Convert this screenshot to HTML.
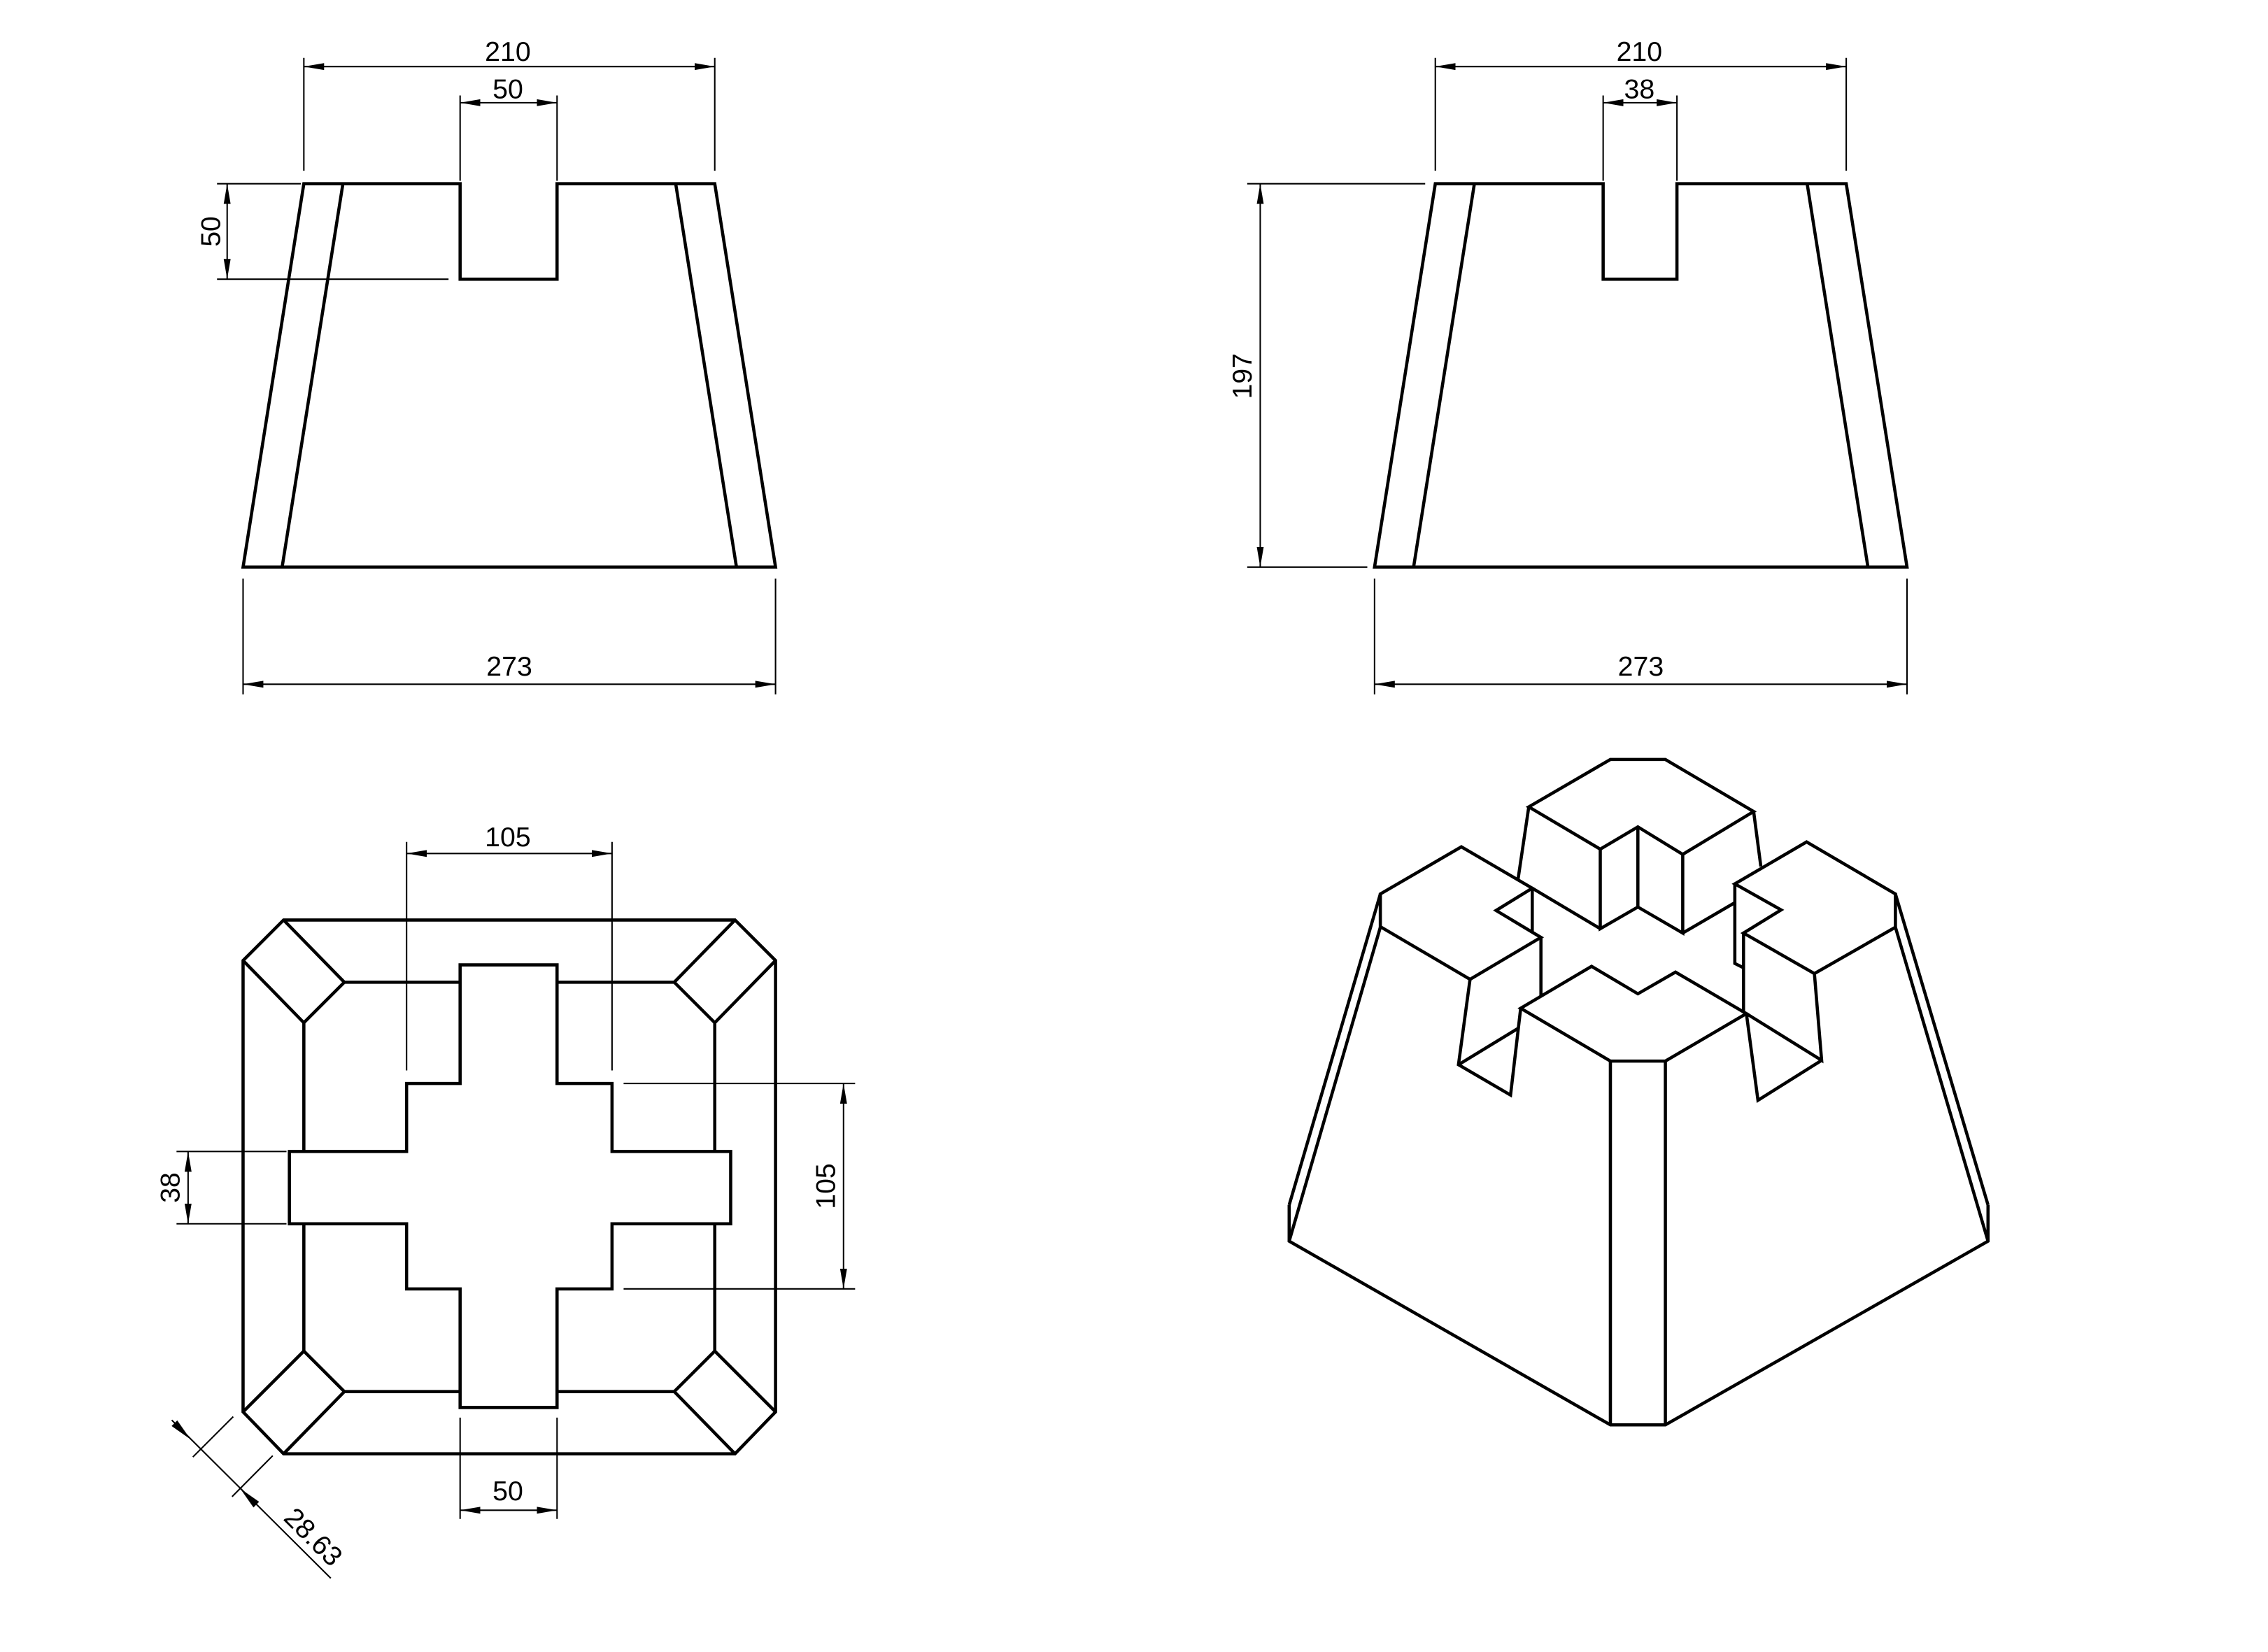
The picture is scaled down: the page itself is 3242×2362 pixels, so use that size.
<!DOCTYPE html>
<html><head><meta charset="utf-8"><style>
html,body{margin:0;padding:0;background:#fff;}
svg{display:block;}
text{font-family:"Liberation Sans",sans-serif;font-size:19px;fill:#000;}
</style></head><body>
<svg width="3242" height="2362" viewBox="0 0 1567.5 1142" xmlns="http://www.w3.org/2000/svg">
<defs>
<marker id="a" markerWidth="14" markerHeight="6" refX="14" refY="3" orient="auto" markerUnits="userSpaceOnUse"><path d="M0,0.6 L14,3 L0,5.4 Z" fill="#000"/></marker>
<marker id="b" markerWidth="14" markerHeight="6" refX="0" refY="3" orient="auto" markerUnits="userSpaceOnUse"><path d="M14,0.6 L0,3 L14,5.4 Z" fill="#000"/></marker>
</defs>
<rect width="1567.5" height="1142" fill="#fff"/>
<g fill="none" stroke="#000" stroke-width="2.2" stroke-linejoin="miter">
<path d="M318,127 L210,127 L168,392 L536,392 L494,127 L385,127 L385,193 L318,193 Z"/>
<path d="M237,127 L195,392 M467,127 L509,392"/>
<path d="M1108,127 L992,127 L950,392 L1318,392 L1276,127 L1159,127 L1159,193 L1108,193 Z"/>
<path d="M1019,127 L977,392 M1249,127 L1291,392"/>
<path d="M196,636 L508,636 L536,664 L536,976 L508,1005 L196,1005 L168,976 L168,664 Z"/>
<path d="M168,664 L210,707 L238,679 L196,636"/>
<path d="M536,664 L494,707 L466,679 L508,636"/>
<path d="M168,976 L210,934 L238,962 L196,1005"/>
<path d="M536,976 L494,934 L466,962 L508,1005"/>
<path d="M238,679 L318,679 M385,679 L466,679 M238,962 L318,962 M385,962 L466,962 M210,707 L210,796 M210,846 L210,934 M494,707 L494,796 M494,846 L494,934"/>
<path d="M318,667 L385,667 L385,749 L423,749 L423,796 L505,796 L505,846 L423,846 L423,891 L385,891 L385,973 L318,973 L318,891 L281,891 L281,846 L200,846 L200,796 L281,796 L281,749 L318,749 Z"/>
<path d="M891,833 L891,858 L1113,985 L1151,985 L1374,858 L1374,833"/>
<path d="M1113,733.5 L1113,985 M1151,733.5 L1151,985"/>
<path d="M891,833 L954,618 M891,858 L954,641 M1374,833 L1310,618 M1374,858 L1310,641"/>
<path d="M1056.6,557.8 L1113,525 L1151,525 L1212,561 L1163,590.6 L1132,571.6 L1106,587 Z"/>
<path d="M1106,587 L1106,642 L1132,627 L1163,645 L1163,590.6 M1132,571.6 L1132,627"/>
<path d="M1059,614 L1106,642 M1163,645 L1199,624"/>
<path d="M1056.6,557.8 L1049,609 M1212,561 L1217,599"/>
<path d="M954,618 L1010,585.4 L1059,614 L1034,629.4 L1065,648 L1016,677 L954,640.6 Z"/>
<path d="M1059,614 L1059,644 M1065,648 L1065,689 M1016,677 L1008,736 L1044,757 L1051,697 M1008,736 L1049,711"/>
<path d="M1051,697 L1100,668 L1132,687 L1158,672 L1207,700.7 L1151,733.5 L1113,733.5 Z"/>
<path d="M1205,645 L1205,700"/>
<path d="M1199,611 L1248.6,582 L1310,618 L1310,641 L1254,673 L1205,645 L1231,629 Z"/>
<path d="M1199,611 L1199,666 L1205,669 M1207,700.7 L1259,733 L1254,673 M1259,733 L1215,760.6 L1207,700.7"/>
</g>
<g fill="none" stroke="#000" stroke-width="1">
<path d="M210,40 L210,118 M494,40 L494,118"/>
<path d="M210,46 L494,46" marker-start="url(#b)" marker-end="url(#a)"/>
<path d="M318,66 L318,125 M385,66 L385,125"/>
<path d="M318,71 L385,71" marker-start="url(#b)" marker-end="url(#a)"/>
<path d="M150,127 L208,127 M150,193 L310,193"/>
<path d="M157,127 L157,193" marker-start="url(#b)" marker-end="url(#a)"/>
<path d="M168,400 L168,480 M536,400 L536,480"/>
<path d="M168,473 L536,473" marker-start="url(#b)" marker-end="url(#a)"/>
<path d="M992,40 L992,118 M1276,40 L1276,118"/>
<path d="M992,46 L1276,46" marker-start="url(#b)" marker-end="url(#a)"/>
<path d="M1108,66 L1108,125 M1159,66 L1159,125"/>
<path d="M1108,71 L1159,71" marker-start="url(#b)" marker-end="url(#a)"/>
<path d="M862,127 L985,127 M862,392 L945,392"/>
<path d="M871,127 L871,392" marker-start="url(#b)" marker-end="url(#a)"/>
<path d="M950,400 L950,480 M1318,400 L1318,480"/>
<path d="M950,473 L1318,473" marker-start="url(#b)" marker-end="url(#a)"/>
<path d="M281,582 L281,740 M423,582 L423,740"/>
<path d="M281,590 L423,590" marker-start="url(#b)" marker-end="url(#a)"/>
<path d="M431,749 L591,749 M431,891 L591,891"/>
<path d="M583,749 L583,891" marker-start="url(#b)" marker-end="url(#a)"/>
<path d="M122,796 L198,796 M122,846 L198,846"/>
<path d="M130,796 L130,846" marker-start="url(#b)" marker-end="url(#a)"/>
<path d="M318,980 L318,1050 M385,980 L385,1050"/>
<path d="M318,1044 L385,1044" marker-start="url(#b)" marker-end="url(#a)"/>
<path d="M161.2,979.3 L133.3,1007.2 M188.5,1006.3 L160.4,1034.6"/>
<path d="M118.7,981.7 L228.6,1091"/>
</g>
<path d="M131.7,995 L118.6,985.8 L122.5,981.9 Z M166,1029 L179.1,1038.2 L175.2,1042.1 Z" fill="#000"/>
<g text-anchor="middle">
<text x="351" y="42">210</text>
<text x="351" y="68">50</text>
<text x="352" y="467">273</text>
<text transform="translate(152,160) rotate(-90)">50</text>
<text x="1133" y="42">210</text>
<text x="1133" y="68">38</text>
<text x="1134" y="467">273</text>
<text transform="translate(865,260) rotate(-90)">197</text>
<text x="351" y="585">105</text>
<text transform="translate(577,820) rotate(-90)">105</text>
<text transform="translate(124,821) rotate(-90)">38</text>
<text x="351" y="1037">50</text>
<text transform="translate(212,1067) rotate(45)">28.63</text>
</g>
</svg>
</body></html>
